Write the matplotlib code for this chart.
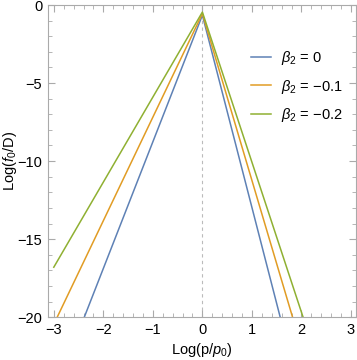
import numpy as np
import matplotlib
matplotlib.use("Agg")
from matplotlib import pyplot as plt
from matplotlib.ticker import MultipleLocator, FuncFormatter

plt.rcParams['font.family'] = ['Liberation Sans', 'DejaVu Sans']
plt.rcParams['mathtext.fontset'] = 'custom'
plt.rcParams['mathtext.it'] = 'Liberation Sans:italic'
plt.rcParams['mathtext.rm'] = 'Liberation Sans'

# data: vertices of each broken line
x = [-3, 0, 3]
y_b0 = [-25.0, -0.65, -37.6]
y_b01 = [-20.46, -0.55, -32.6]
y_b02 = [-16.8, -0.45, -29.3]
labels = [r'$\beta_2$ = 0', r'$\beta_2$ = −0.1', r'$\beta_2$ = −0.2']
colors = ['#5E81B5', '#E19C24', '#8FB032']

fig = plt.figure(figsize=(3.57, 3.60), dpi=100)
ax = fig.add_axes([0.134, 0.119, 0.863, 0.867])

ax.axvline(0, color='#bbbbbb', lw=0.8, ls=(0, (3, 3)), zorder=1)
for ys, lab, c in zip([y_b0, y_b01, y_b02], labels, colors):
    ax.plot(x, ys, color=c, lw=1.1, label=lab, zorder=2)

ax.set_xlim(-3.12, 3.1)
ax.set_ylim(-20, 0)
ax.xaxis.set_major_locator(MultipleLocator(1))
ax.xaxis.set_minor_locator(MultipleLocator(0.2))
ax.yaxis.set_major_locator(MultipleLocator(5))
ax.yaxis.set_minor_locator(MultipleLocator(1))
fmt = FuncFormatter(lambda v, p: f'{v:.0f}'.replace('-', '−'))
ax.xaxis.set_major_formatter(fmt)
ax.yaxis.set_major_formatter(fmt)

for s in ax.spines.values():
    s.set_color('#aaaaaa')
    s.set_linewidth(0.8)
ax.tick_params(which='both', direction='in', color='#aaaaaa', top=True, right=True,
               labelsize=10.5, labelcolor='black', pad=4)
ax.tick_params(which='major', length=5, width=0.8)
ax.tick_params(which='minor', length=3, width=0.6)

ax.set_xlabel(r'Log(p/$p_0$)', fontsize=10.5, labelpad=3)
ax.set_ylabel(r'Log($f_0$/D)', fontsize=10.5)
ax.yaxis.set_label_coords(-0.094, 0.5)

ax.legend(loc='upper right', bbox_to_anchor=(1.0, 0.9), frameon=False, fontsize=10.5,
          handlelength=1.4, handletextpad=0.7, labelspacing=0.7)

fig.savefig('out.png', dpi=100)
